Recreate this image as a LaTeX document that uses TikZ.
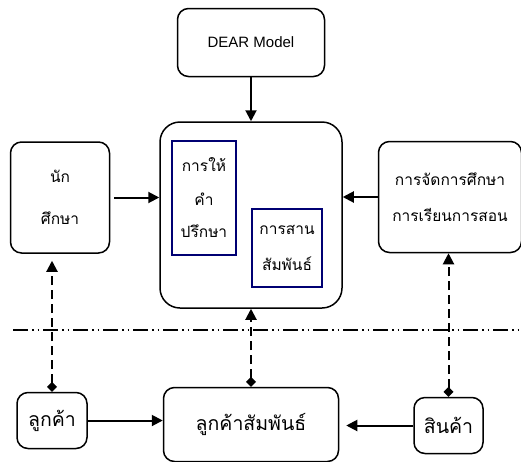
\documentclass[tikz,border=0pt]{standalone}
\usepackage{fontspec}
\setmainfont{Liberation Sans}
\newfontfamily\thaifont[Script=Thai]{Loma}
\usetikzlibrary{positioning,arrows.meta,shapes.geometric}

\begin{document}
\begin{tikzpicture}
                    [x=1pt, y=1pt,
                    box/.style={rectangle,
                        rounded corners=11pt,
                        draw, line width=1.5pt,
                        align=center, inner sep=0pt},
                    inbox/.style={rectangle,
                        draw=blue!45!black, line width=1.4pt,
                        align=center, inner sep=0pt},
                    th/.style={font=\thaifont\fontsize{15.5}{18}\selectfont},
                    thbig/.style={font=\thaifont\fontsize{19.5}{22}\selectfont},
                    flow/.style={line width=2pt,
                        -{Triangle[length=11pt,width=11pt]}},
                    link/.style={line width=2pt,
                        dash pattern=on 9pt off 5pt,
                        {Diamond[length=10pt,width=10pt]}-{Triangle[length=11pt,width=11pt]}},
                    node distance=44pt]

                    \useasboundingbox (0,0) rectangle (521,-461);

                    % upper half
                    \node[box, rounded corners=20pt,
                        minimum width=182pt, minimum height=186pt]
                        (core) at (251,-215) {};
                    \node[box, above=of core,
                        minimum width=147pt, minimum height=68pt,
                        font=\fontsize{15}{18}\selectfont]
                        (dear) {DEAR Model};
                    \node[box, th, left=49pt of core, yshift=17.5pt,
                        minimum width=99pt, minimum height=111pt]
                        (student) {นัก\\[24pt]ศึกษา};
                    \node[box, th, right=35pt of core, yshift=18pt,
                        minimum width=143pt, minimum height=111pt]
                        (edu) {การจัดการศึกษา\\[18pt]การเรียนการสอน};
                    \node[inbox, th, below right=19pt and 12pt of core.north west,
                        minimum width=64pt, minimum height=114pt]
                        (advice) {การให้\\[16pt]คำ\\[14pt]ปรึกษา};
                    \node[inbox, th, above left=21pt and 20pt of core.south east,
                        minimum width=70pt, minimum height=78pt]
                        (bond) {การสาน\\[18pt]สัมพันธ์};

                    % lower half
                    \node[box, thbig, below=78pt of core,
                        minimum width=175pt, minimum height=74pt]
                        (crm) {ลูกค้าสัมพันธ์};
                    \node[box, thbig, left=75pt of crm, yshift=4pt,
                        minimum width=70pt, minimum height=56pt]
                        (cust) {ลูกค้า};
                    \node[box, thbig, right=74pt of crm, yshift=-1pt,
                        minimum width=69pt, minimum height=56pt]
                        (goods) {สินค้า};

                    \draw[flow] (dear) -- (core);
                    \draw[flow, shorten <=4pt] (student.east) -- (student.east -| core.west);
                    \draw[flow] (edu.west) -- (edu.west -| core.east);
                    \draw[flow] (cust.east) -- (cust.east -| crm.west);
                    \draw[flow, shorten >=7pt] (goods.west) -- (goods.west -| crm.east);

                    \draw[link, shorten >=7pt] (cust.north) -- (cust.north |- student.south);
                    \draw[link] (crm.north) -- (core.south);
                    \draw[link] (goods.north) -- (goods.north |- edu.south);

                    % separator
                    \draw[line width=1.4pt,
                        dash pattern=on 15pt off 4pt on 1.5pt off 4pt on 1.5pt off 4pt]
                        (13,-330) -- (521,-330);
                \end{tikzpicture}
\end{document}
